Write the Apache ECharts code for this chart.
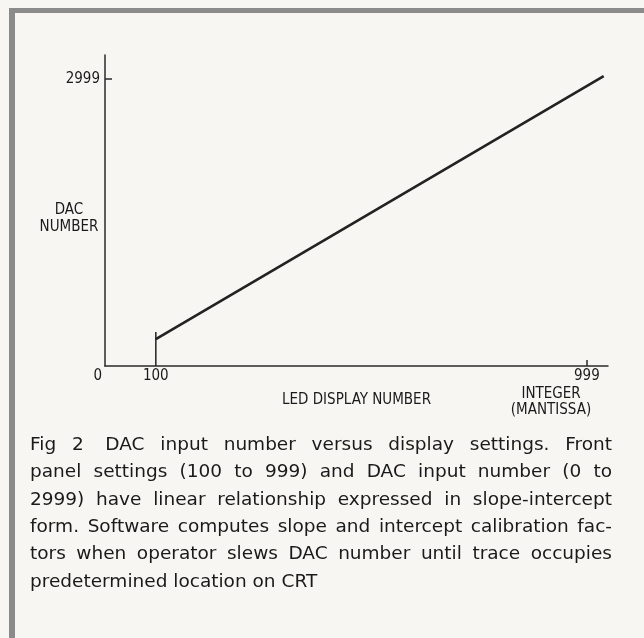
<!DOCTYPE html>
<html>
<head>
<meta charset="utf-8">
<script src="https://cdn.jsdelivr.net/npm/echarts@6/dist/echarts.min.js"></script>
<style>
  html, body { margin: 0; padding: 0; background: #f7f6f3; }
  #chart { width: 644px; height: 638px; }
</style>
</head>
<body>
<div id="chart"></div>
<script>
// LED display number (x) against DAC number (y)
const xLabelValues = [0, 100, 999];
const xTickValues = [999];
const yLabelValues = [2999];
const supportX = [100, 100];
const supportY = [0, 355];
const slopeX = [100, 1034];
const slopeY = [282, 3030];
const captionLines = [
  'Fig 2  DAC input number versus display settings. Front',
  'panel settings (100 to 999) and DAC input number (0 to',
  '2999) have linear relationship expressed in slope-intercept',
  'form. Software computes slope and intercept calibration fac-',
  'tors when operator slews DAC number until trace occupies',
  'predetermined location on CRT'
];

const narrow = '"Liberation Sans Narrow", "DejaVu Sans Condensed", "Liberation Sans", sans-serif';
const captionFont = '"DejaVu Sans", sans-serif';
const captionSize = 18.5;
const ink = '#1a1a1a';

function pairs(xs, ys) { return xs.map((x, i) => [x, ys[i]]); }

// Justified caption: words are spread to fill the column; a double space
// keeps one extra natural space before the stretch is shared out.
function captionElements() {
  const left = 30, right = 612, top = 445, step = 27.4;
  const ctx = document.createElement('canvas').getContext('2d');
  ctx.font = captionSize + 'px ' + captionFont;
  const space = ctx.measureText(' ').width;
  const els = [];
  captionLines.forEach((line, li) => {
    const parts = line.split(' ');
    const words = [];
    let extra = 0;
    parts.forEach(p => {
      if (p === '') { extra += space; return; }
      words.push({ text: p, pre: extra, width: ctx.measureText(p).width });
      extra = 0;
    });
    const total = words.reduce((a, w) => a + w.width + w.pre, 0);
    const last = li === captionLines.length - 1;
    const gap = last ? space : (right - left - total) / (words.length - 1);
    let x = left;
    words.forEach((w, wi) => {
      x += w.pre;
      els.push({
        type: 'text', x: x, y: top + li * step,
        style: { text: w.text, font: captionSize + 'px ' + captionFont, fill: ink, textVerticalAlign: 'middle' }
      });
      x += w.width + gap;
    });
  });
  return els;
}

const chart = echarts.init(document.getElementById('chart'), null, { renderer: 'canvas' });

chart.setOption({
  backgroundColor: '#f7f6f3',
  animation: false,
  grid: { left: 105, right: 36, top: 55, bottom: 272, containLabel: false, outerBoundsMode: 'none' },
  xAxis: {
    type: 'value', min: -6, max: 1043,
    name: 'LED DISPLAY NUMBER', nameLocation: 'middle', nameGap: 27, nameMoveOverlap: false,
    nameTextStyle: { fontFamily: narrow, fontSize: 15, color: ink, verticalAlign: 'top' },
    axisLine: { show: true, onZero: false, lineStyle: { color: '#2a2a2a', width: 1.5 } },
    axisTick: { show: true, inside: true, length: 6, customValues: xTickValues, lineStyle: { color: '#2a2a2a', width: 1.5 } },
    axisLabel: {
      customValues: xLabelValues, margin: 3,
      fontFamily: narrow, fontSize: 15, color: ink,
      formatter: v => v === 0 ? '{z|0}' : String(v),
      rich: { z: { padding: [0, 20, 0, 0], fontFamily: narrow, fontSize: 15, color: ink } }
    },
    splitLine: { show: false }
  },
  yAxis: {
    type: 'value', min: 0, max: 3250,
    name: 'DAC\nNUMBER', nameLocation: 'middle', nameGap: 36, nameRotate: 0, nameMoveOverlap: false,
    nameTextStyle: { fontFamily: narrow, fontSize: 15, color: ink, lineHeight: 17, align: 'center', verticalAlign: 'top', padding: [-9, 0, 0, 0] },
    axisLine: { show: true, onZero: false, lineStyle: { color: '#2a2a2a', width: 1.5 } },
    axisTick: { show: true, inside: true, length: 7, customValues: yLabelValues, lineStyle: { color: '#2a2a2a', width: 1.5 } },
    axisLabel: { customValues: yLabelValues, margin: 5, fontFamily: narrow, fontSize: 15, color: ink, formatter: v => String(v) },
    splitLine: { show: false }
  },
  series: [
    {
      type: 'line', data: pairs(supportX, supportY), symbol: 'none',
      lineStyle: { color: '#222', width: 1.5 }
    },
    {
      type: 'line', data: pairs(slopeX, slopeY), symbol: 'none',
      lineStyle: { color: '#222', width: 2.6 }
    }
  ],
  graphic: [
    { type: 'rect', shape: { x: 9, y: 8, width: 6, height: 630 }, style: { fill: '#8b8b8b' } },
    { type: 'rect', shape: { x: 9, y: 8, width: 635, height: 5 }, style: { fill: '#8b8b8b' } },
    {
      type: 'text', x: 551, y: 386,
      style: {
        text: 'INTEGER\n(MANTISSA)', font: '15px ' + narrow, fill: ink,
        textAlign: 'center', lineHeight: 16
      }
    }
  ].concat(captionElements())
});
</script>
</body>
</html>
